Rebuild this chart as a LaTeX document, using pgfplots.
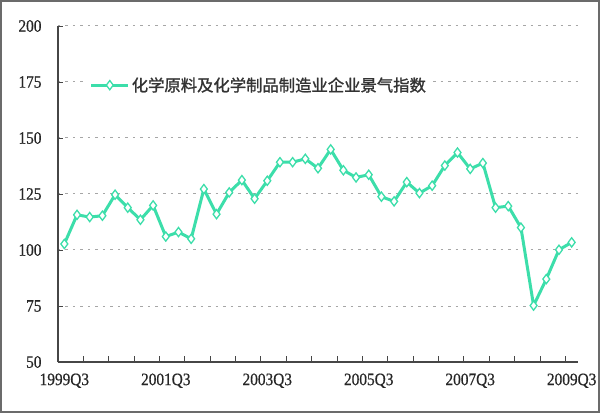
\documentclass[border=0pt]{standalone}
\usepackage{pgfplots}
\pgfplotsset{compat=1.18}
\usepackage{fontspec}
\setmainfont{Liberation Serif}[FakeStretch=0.88, FakeBold=0.6]
\newfontfamily\cjk{Noto Sans CJK SC}[FakeBold=1.4]
\definecolor{mint}{RGB}{60,222,170}
\definecolor{axgray}{RGB}{70,70,70}
\begin{document}
\begin{tikzpicture}
\begin{axis}[
  at={(0,0)}, anchor=south west,
  scale only axis, width=520bp, height=336bp,
  xmin=-0.5, xmax=40.5, ymin=50, ymax=200,
  axis x line*=bottom, axis y line*=left,
  axis line style={axgray, line width=1.4bp, -},
  xtick={0,8,16,24,32,40},
  xticklabels={1999Q3,2001Q3,2003Q3,2005Q3,2007Q3,2009Q3},
  major x tick style={draw=none},
  minor xtick={1.5,3.5,...,39.5},
  minor tick length=6bp,
  minor x tick style={axgray, line width=0.9bp},
  ytick={50,75,...,200},
  major y tick style={axgray, line width=0.9bp},
  major tick length=5bp,
  tick align=inside,
  ymajorgrids,
  grid style={gray!70, line width=1bp, dash pattern=on 2.5bp off 5bp},
  tick label style={font=\fontsize{17.5}{17.5}\selectfont, text=black!85},
  /pgf/number format/assume math mode=true,
  yticklabel style={xshift=-13bp},
  xticklabel style={yshift=-8bp},
  legend style={at={(0.055,0.824)}, anchor=west, draw=none, fill=white,
    inner xsep=3bp, inner ysep=2bp,
    font=\cjk\fontsize{16.4}{17}\selectfont, text=black!80},
  legend image code/.code={
    \draw[#1, mark=none] (0cm,0cm) -- (37bp,0cm);
    \draw[#1, only marks] plot coordinates {(18.5bp,0cm)};
  },
  legend cell align=left,
]
\addplot[mint, line width=3bp, mark=diamond*, mark size=4.6bp,
  mark options={fill=white, draw=mint, line width=1.3bp}]
coordinates {
(0,102.7)(1,115.7)(2,114.7)(3,115.3)(4,124.7)(5,118.9)(6,113.5)(7,119.9)
(8,106)(9,108)(10,105)(11,127.2)(12,116)(13,125.7)(14,131.2)(15,122.9)
(16,130.9)(17,139.2)(18,139.2)(19,140.7)(20,136.5)(21,144.9)(22,135.6)
(23,132.4)(24,133.6)(25,123.8)(26,121.7)(27,130.3)(28,125.4)(29,128.7)
(30,137.7)(31,143.5)(32,136.2)(33,138.8)(34,118.9)(35,119.6)(36,110)
(37,75.2)(38,87)(39,100.1)(40,103.4)
};
\addlegendentry{化学原料及化学制品制造业企业景气指数}
\end{axis}
\draw[axgray!80, line width=2bp] (-57bp,-50bp) rectangle (541bp,361bp);
\end{tikzpicture}
\end{document}
